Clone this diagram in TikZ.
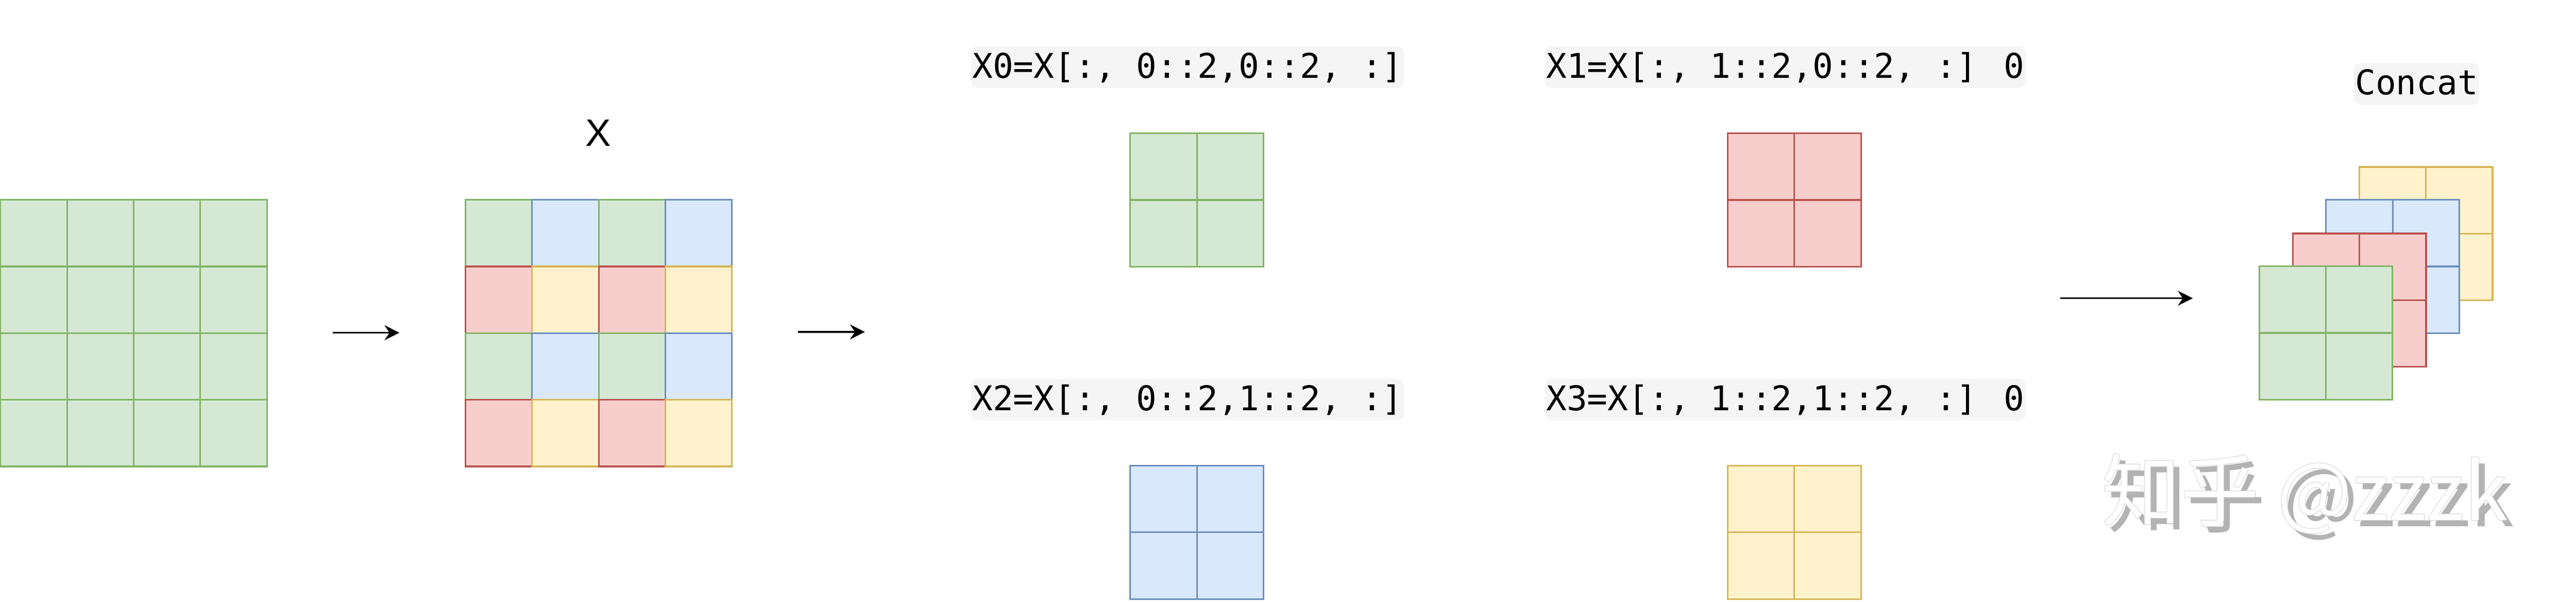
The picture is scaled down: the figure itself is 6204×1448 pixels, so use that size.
\documentclass[tikz,border=0pt]{standalone}
\usepackage{fontspec}
\newfontfamily\monof{DejaVu Sans Mono}
\newfontfamily\cjkf{Noto Sans CJK SC}
\newfontfamily\sansf{Liberation Sans}
\usetikzlibrary{arrows.meta}
\definecolor{gfill}{HTML}{D5E8D4}\definecolor{gline}{HTML}{82B366}
\definecolor{bfill}{HTML}{DAE8FC}\definecolor{bline}{HTML}{6C8EBF}
\definecolor{rfill}{HTML}{F8CECC}\definecolor{rline}{HTML}{B85450}
\definecolor{yfill}{HTML}{FFF2CC}\definecolor{yline}{HTML}{D6B656}
\definecolor{codebg}{HTML}{F5F5F5}
\definecolor{wmgray}{HTML}{B3B3B3}
\definecolor{wmline}{HTML}{CFCFCF}
\tikzset{
  cell/.style={minimum size=16.05pt, inner sep=0pt, outer sep=0pt, anchor=north west, line width=0.4pt},
  cellg/.style={fill=gfill, draw=gline},
  cellb/.style={fill=bfill, draw=bline},
  cellr/.style={fill=rfill, draw=rline},
  celly/.style={fill=yfill, draw=yline},
  code/.style={fill=codebg, rounded corners=1.5pt, font=\monof\fontsize{8.2}{9}\selectfont,
    text height=7.6pt, text depth=2.4pt, inner ysep=0pt, inner xsep=0.3pt, minimum height=10pt},
  flow/.style={-{Stealth[length=3.6pt,width=3.6pt,inset=1.2pt]}, line width=0.45pt, black},
  wmtext/.style={font=\cjkf\fontsize{19}{20}\selectfont, inner sep=0pt, anchor=base west},
}
\begin{document}
\begin{tikzpicture}[x=0.1pt,y=-0.1pt]
\useasboundingbox (0,0) rectangle (6204,1448);
% left input grid
\foreach \r in {0,...,3}
  \foreach \c in {0,...,3}
    \node[cell, cellg] (in-\r-\c) at ({1+\c*160.5},{481+\r*160.5}) {};
% interleaved grid
\foreach \rs [count=\r from 0] in {{g,b,g,b},{r,y,r,y},{g,b,g,b},{r,y,r,y}}
  \foreach \s [count=\c from 0] in \rs
    \node[cell, cell\s] (mx-\r-\c) at ({1121+\c*160.5},{481+\r*160.5}) {};
\node[font=\sansf\fontsize{9.2}{10}\selectfont, inner sep=0pt, anchor=base] (xlab) at (1441,352) {X};
% sub grids
\foreach \nm/\s/\x/\y in {a/g/2722/321, b/r/4161/321, c/b/2722/1121, d/y/4161/1121}
  \foreach \r in {0,1}
    \foreach \c in {0,1}
      \node[cell, cell\s] (\nm-\r-\c) at ({\x+\c*160.5},{\y+\r*160.5}) {};
\node[code] (l0) at (2860,162) {X0=X[:, 0::2,0::2, :]};
\node[code] (l1) at (4300,162) {X1=X[:, 1::2,0::2, :] 0};
\node[code] (l2) at (2860,962) {X2=X[:, 0::2,1::2, :]};
\node[code] (l3) at (4300,962) {X3=X[:, 1::2,1::2, :] 0};
% concat stack
\foreach \nm/\s/\x/\y in {sy/y/5682/402, sb/b/5602/481, sr/r/5522/562, sg/g/5441/641}
  \foreach \r in {0,1}
    \foreach \c in {0,1}
      \node[cell, cell\s] (\nm-\r-\c) at ({\x+\c*160.5},{\y+\r*160.5}) {};
\node[code] (lc) at (5820,202) {Concat};
% arrows
\coordinate (a1s) at (801,801); \coordinate (a1e) at (962,801);
\coordinate (a2s) at (1922,799); \coordinate (a2e) at (2083,799);
\coordinate (a3s) at (4962,718); \coordinate (a3e) at (5281,718);
\draw[flow] (a1s) -- (a1e);
\draw[flow] (a2s) -- (a2e);
\draw[flow] (a3s) -- (a3e);
% watermark: gray shadow, thin light outline, white text
\node[wmtext, text=wmgray] (wms) at (5075,1268) {知乎 @zzzk};
\foreach \dx/\dy [count=\k] in {-1.2/0,1.2/0,0/-1.2,0/1.2}
  \node[wmtext, text=wmline] (wmo\k) at ({5060+\dx},{1253+\dy}) {知乎 @zzzk};
\node[wmtext, text=white] (wm) at (5060,1253) {知乎 @zzzk};
\end{tikzpicture}
\end{document}
